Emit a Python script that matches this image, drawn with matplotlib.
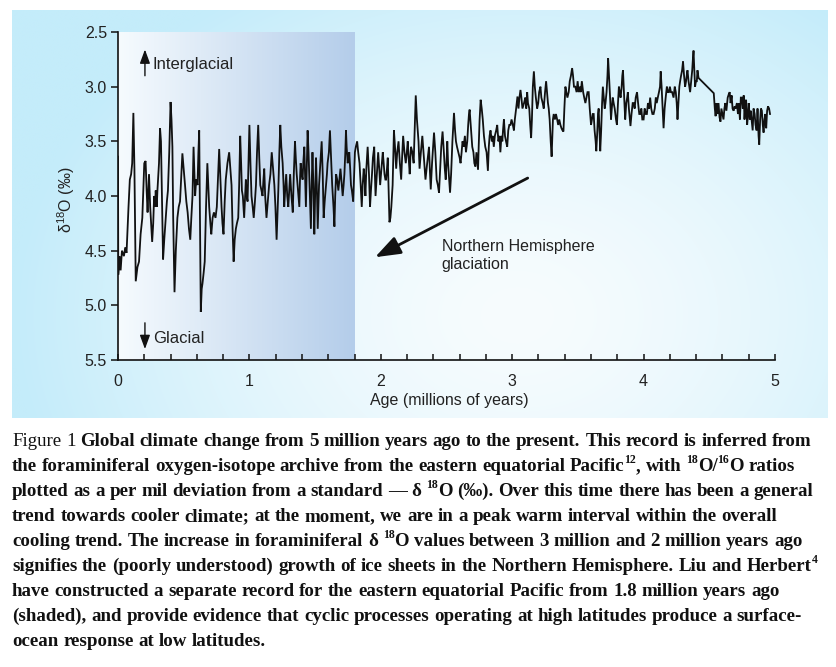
import re
import numpy as np
import matplotlib
matplotlib.use("Agg")
import matplotlib.pyplot as plt

# ---------------- data ----------------
age = [0.000, 0.002, 0.012, 0.02, 0.03, 0.045, 0.055, 0.065, 0.08, 0.09, 0.1, 0.108, 0.117, 0.125, 0.135,
       0.148, 0.16, 0.172, 0.185, 0.195, 0.2, 0.21, 0.218, 0.225, 0.236, 0.245, 0.26, 0.268, 0.275, 0.282,
       0.287, 0.295, 0.3, 0.312, 0.32, 0.327, 0.333, 0.343, 0.352, 0.363, 0.372, 0.38, 0.39, 0.4, 0.407,
       0.414, 0.42, 0.43, 0.44, 0.452, 0.462, 0.472, 0.48, 0.49, 0.5, 0.51, 0.52, 0.53, 0.54, 0.55,
       0.558, 0.567, 0.575, 0.58, 0.587, 0.595, 0.605, 0.612, 0.618, 0.624, 0.63, 0.637, 0.643, 0.652, 0.66,
       0.67, 0.68, 0.687, 0.694, 0.703, 0.71, 0.72, 0.73, 0.742, 0.752, 0.762, 0.77, 0.778, 0.788, 0.795,
       0.803, 0.812, 0.82, 0.833, 0.846, 0.855, 0.864, 0.872, 0.88, 0.888, 0.897, 0.905, 0.915, 0.922, 0.93,
       0.937, 0.943, 0.95, 0.96, 0.967, 0.973, 0.98, 0.986, 0.993, 1.0, 1.008, 1.016, 1.025, 1.033, 1.042,
       1.05, 1.058, 1.067, 1.075, 1.083, 1.092, 1.1, 1.107, 1.113, 1.12, 1.13, 1.14, 1.15, 1.16, 1.17,
       1.18, 1.19, 1.198, 1.207, 1.213, 1.22, 1.228, 1.235, 1.243, 1.253, 1.26, 1.265, 1.272, 1.28, 1.288,
       1.296, 1.303, 1.31, 1.32, 1.33, 1.338, 1.347, 1.353, 1.36, 1.37, 1.38, 1.385, 1.39, 1.398, 1.405,
       1.41, 1.418, 1.425, 1.43, 1.437, 1.443, 1.45, 1.455, 1.462, 1.468, 1.474, 1.48, 1.487, 1.494, 1.5,
       1.507, 1.513, 1.52, 1.525, 1.53, 1.54, 1.55, 1.558, 1.565, 1.573, 1.583, 1.59, 1.595, 1.605, 1.613,
       1.62, 1.63, 1.64, 1.647, 1.653, 1.66, 1.668, 1.677, 1.685, 1.693, 1.7, 1.71, 1.717, 1.723, 1.73,
       1.735, 1.74, 1.748, 1.755, 1.76, 1.767, 1.773, 1.78, 1.79, 1.797, 1.803, 1.81, 1.82, 1.828, 1.838,
       1.847, 1.855, 1.862, 1.87, 1.877, 1.883, 1.89, 1.9, 1.91, 1.918, 1.925, 1.933, 1.94, 1.95, 1.955,
       1.96, 1.97, 1.98, 1.988, 1.995, 2.005, 2.015, 2.022, 2.028, 2.035, 2.04, 2.047, 2.053, 2.06, 2.066,
       2.073, 2.08, 2.085, 2.09, 2.095, 2.1, 2.108, 2.117, 2.125, 2.135, 2.145, 2.155, 2.162, 2.17, 2.18,
       2.19, 2.198, 2.205, 2.212, 2.22, 2.225, 2.23, 2.24, 2.25, 2.258, 2.266, 2.275, 2.287, 2.295, 2.305,
       2.316, 2.328, 2.34, 2.353, 2.367, 2.373, 2.38, 2.39, 2.398, 2.405, 2.415, 2.425, 2.434, 2.443, 2.452,
       2.46, 2.47, 2.48, 2.487, 2.494, 2.5, 2.506, 2.512, 2.52, 2.527, 2.535, 2.545, 2.552, 2.557, 2.565,
       2.572, 2.58, 2.59, 2.6, 2.607, 2.615, 2.622, 2.63, 2.64, 2.648, 2.658, 2.665, 2.671, 2.676, 2.684,
       2.69, 2.696, 2.705, 2.712, 2.72, 2.728, 2.735, 2.74, 2.745, 2.752, 2.76, 2.768, 2.776, 2.785, 2.795,
       2.805, 2.815, 2.822, 2.828, 2.835, 2.845, 2.852, 2.86, 2.868, 2.878, 2.886, 2.895, 2.903, 2.91, 2.918,
       2.925, 2.93, 2.937, 2.945, 2.953, 2.962, 2.97, 2.978, 2.987, 2.995, 3.005, 3.013, 3.02, 3.03, 3.04,
       3.048, 3.055, 3.063, 3.07, 3.078, 3.09, 3.1, 3.107, 3.114, 3.12, 3.13, 3.137, 3.144, 3.15, 3.157,
       3.165, 3.172, 3.18, 3.19, 3.198, 3.205, 3.215, 3.222, 3.232, 3.24, 3.25, 3.258, 3.265, 3.272, 3.278,
       3.285, 3.293, 3.3, 3.306, 3.31, 3.316, 3.325, 3.333, 3.342, 3.35, 3.358, 3.367, 3.375, 3.383, 3.39,
       3.397, 3.405, 3.412, 3.42, 3.43, 3.438, 3.447, 3.456, 3.463, 3.47, 3.48, 3.49, 3.498, 3.506, 3.515,
       3.522, 3.53, 3.54, 3.548, 3.557, 3.565, 3.573, 3.582, 3.59, 3.6, 3.607, 3.613, 3.62, 3.627, 3.635,
       3.64, 3.648, 3.653, 3.658, 3.664, 3.67, 3.677, 3.684, 3.69, 3.697, 3.704, 3.71, 3.718, 3.725, 3.73,
       3.737, 3.745, 3.752, 3.758, 3.765, 3.772, 3.78, 3.79, 3.797, 3.805, 3.812, 3.818, 3.825, 3.833, 3.838,
       3.843, 3.85, 3.856, 3.86, 3.868, 3.875, 3.88, 3.888, 3.895, 3.9, 3.908, 3.917, 3.924, 3.932, 3.94,
       3.95, 3.958, 3.967, 3.975, 3.983, 3.99, 4.0, 4.008, 4.017, 4.025, 4.033, 4.042, 4.05, 4.058, 4.067,
       4.076, 4.085, 4.093, 4.1, 4.108, 4.117, 4.125, 4.13, 4.137, 4.145, 4.152, 4.16, 4.168, 4.177, 4.185,
       4.193, 4.2, 4.208, 4.217, 4.228, 4.237, 4.245, 4.252, 4.258, 4.265, 4.272, 4.278, 4.285, 4.293, 4.3,
       4.308, 4.316, 4.323, 4.33, 4.334, 4.342, 4.348, 4.354, 4.362, 4.37, 4.375, 4.38, 4.386, 4.392, 4.398,
       4.405, 4.41, 4.418, 4.534, 4.542, 4.548, 4.555, 4.562, 4.57, 4.578, 4.585, 4.592, 4.6, 4.608, 4.615,
       4.622, 4.63, 4.64, 4.648, 4.655, 4.662, 4.67, 4.677, 4.685, 4.693, 4.7, 4.71, 4.718, 4.725, 4.733,
       4.74, 4.748, 4.755, 4.762, 4.768, 4.775, 4.78, 4.788, 4.795, 4.8, 4.808, 4.815, 4.822, 4.83, 4.837,
       4.845, 4.852, 4.86, 4.867, 4.875, 4.88, 4.887, 4.893, 4.9, 4.907, 4.913, 4.92, 4.927, 4.933, 4.94,
       4.947, 4.955, 4.962]

d18o = [3.64, 4.72, 4.55, 4.68, 4.5, 4.55, 4.47, 4.52, 4.1, 3.85, 3.8, 3.7, 3.24, 3.75, 4.78,
        4.65, 4.6, 4.35, 4.2, 3.85, 3.7, 3.68, 3.95, 4.15, 3.8, 4.1, 4.42, 4.25, 4.0, 4.1,
        3.95, 4.1, 3.95, 3.7, 3.38, 3.5, 3.9, 4.58, 4.4, 4.2, 4.05, 3.95, 3.6, 3.14, 3.3,
        3.55, 4.2, 4.88, 4.5, 4.2, 4.1, 4.05, 3.85, 3.61, 3.75, 3.9, 4.05, 4.15, 4.3, 4.4,
        4.2, 4.0, 3.55, 3.75, 4.0, 3.85, 3.9, 3.6, 3.4, 4.2, 5.06, 4.85, 4.8, 4.7, 4.6,
        4.1, 3.7, 3.9, 4.1, 4.25, 4.35, 4.2, 4.15, 4.2, 4.1, 3.8, 3.57, 3.8, 4.1, 4.25,
        4.35, 4.05, 3.85, 3.7, 3.6, 3.75, 3.9, 4.3, 4.6, 4.4, 4.3, 4.25, 4.2, 3.9, 3.45,
        3.7, 3.95, 4.0, 4.2, 4.0, 3.85, 4.0, 4.05, 3.7, 3.35, 3.7, 4.0, 4.1, 4.2, 4.05,
        3.9, 3.6, 3.35, 3.65, 3.9, 3.95, 4.0, 3.85, 3.75, 4.0, 4.2, 4.05, 3.9, 3.8, 3.6,
        3.75, 3.9, 4.1, 4.4, 4.2, 3.95, 3.6, 3.35, 3.55, 3.7, 3.9, 4.1, 3.95, 3.8, 4.0,
        4.1, 3.95, 3.8, 4.0, 4.15, 3.8, 3.5, 3.65, 3.8, 3.95, 4.1, 3.85, 3.7, 3.8, 3.85,
        3.7, 3.55, 3.85, 4.1, 3.7, 3.4, 3.6, 3.8, 4.05, 4.3, 3.9, 3.6, 3.9, 4.35, 4.0,
        3.65, 3.9, 4.3, 4.1, 3.9, 3.7, 3.5, 3.8, 4.2, 4.05, 3.9, 3.8, 3.7, 3.6, 3.4,
        3.6, 3.9, 4.1, 4.28, 4.0, 3.8, 3.85, 3.95, 3.85, 3.75, 3.85, 4.0, 3.9, 3.8, 3.6,
        3.4, 3.55, 3.7, 3.65, 3.6, 3.75, 3.9, 3.95, 4.05, 3.8, 3.6, 3.55, 3.5, 3.6, 3.7,
        3.9, 4.1, 3.9, 3.75, 3.85, 4.0, 3.75, 3.55, 3.8, 4.1, 3.95, 3.8, 3.65, 3.55, 3.8,
        4.0, 3.8, 3.6, 3.75, 3.9, 3.75, 3.6, 3.7, 3.8, 3.85, 3.85, 3.75, 3.65, 3.95, 4.24,
        4.2, 4.1, 4.0, 3.9, 3.65, 3.4, 3.55, 3.75, 3.6, 3.5, 3.7, 3.85, 3.65, 3.45, 3.6,
        3.7, 3.6, 3.5, 3.65, 3.8, 3.65, 3.55, 3.6, 3.7, 3.4, 3.08, 3.3, 3.5, 3.75, 3.6,
        3.45, 3.65, 3.85, 3.7, 3.55, 3.75, 3.94, 3.7, 3.55, 3.42, 3.6, 3.85, 3.9, 3.97, 3.75,
        3.55, 3.41, 3.6, 3.75, 3.85, 3.7, 3.5, 3.7, 3.85, 3.97, 3.8, 3.5, 3.35, 3.24, 3.4,
        3.5, 3.55, 3.6, 3.65, 3.7, 3.6, 3.5, 3.55, 3.45, 3.6, 3.5, 3.35, 3.25, 3.21, 3.35,
        3.45, 3.55, 3.6, 3.7, 3.73, 3.6, 3.7, 3.76, 3.55, 3.3, 3.12, 3.2, 3.3, 3.45, 3.55,
        3.6, 3.77, 3.55, 3.45, 3.4, 3.5, 3.45, 3.55, 3.45, 3.4, 3.35, 3.5, 3.45, 3.6, 3.45,
        3.5, 3.4, 3.3, 3.45, 3.5, 3.55, 3.4, 3.35, 3.35, 3.3, 3.35, 3.4, 3.3, 3.2, 3.09,
        3.2, 3.1, 3.03, 3.1, 3.2, 3.15, 3.1, 3.2, 3.05, 3.15, 3.2, 3.35, 3.47, 3.3, 3.0,
        2.86, 3.0, 3.1, 3.2, 3.15, 3.05, 3.0, 3.1, 3.15, 3.2, 3.05, 2.95, 3.05, 3.15, 3.2,
        3.3, 3.5, 3.64, 3.45, 3.3, 3.25, 3.3, 3.25, 3.3, 3.35, 3.3, 3.35, 3.38, 3.4, 3.41,
        3.2, 3.0, 3.05, 3.1, 3.05, 2.95, 2.9, 2.83, 2.9, 3.0, 3.0, 3.05, 2.95, 3.05, 3.0,
        3.05, 2.95, 3.05, 3.1, 3.15, 3.1, 3.05, 3.05, 3.2, 3.35, 3.3, 3.25, 3.25, 3.4, 3.5,
        3.59, 3.4, 3.25, 3.2, 3.4, 3.59, 3.4, 3.15, 3.0, 3.1, 3.2, 3.15, 3.05, 2.9, 2.74,
        2.9, 3.1, 3.3, 3.2, 3.1, 3.15, 3.2, 3.3, 3.35, 3.15, 3.0, 3.05, 3.1, 3.0, 2.9,
        2.85, 3.05, 3.2, 3.3, 3.15, 3.1, 3.05, 3.2, 3.3, 3.36, 3.25, 3.15, 3.15, 3.2, 3.1,
        3.05, 3.15, 3.25, 3.25, 3.2, 3.3, 3.3, 3.2, 3.25, 3.25, 3.15, 3.2, 3.1, 3.2, 3.25,
        3.25, 3.2, 3.1, 3.15, 3.1, 3.05, 3.0, 2.86, 3.0, 3.2, 3.38, 3.2, 3.1, 3.0, 3.05,
        3.05, 3.0, 3.05, 3.05, 3.1, 3.0, 3.05, 3.15, 3.3, 3.15, 3.0, 2.95, 2.9, 2.85, 2.77,
        2.9, 3.0, 2.95, 2.88, 2.85, 2.95, 3.0, 3.05, 2.95, 2.85, 2.75, 2.67, 2.85, 3.0, 2.95,
        2.95, 2.85, 2.92, 3.06, 3.2, 3.27, 3.15, 3.25, 3.15, 3.28, 3.32, 3.2, 3.25, 3.3, 3.2,
        3.15, 3.22, 3.1, 3.07, 3.05, 3.15, 3.08, 3.2, 3.22, 3.18, 3.2, 3.15, 3.25, 3.15, 3.3,
        3.1, 3.1, 3.2, 3.08, 3.3, 3.15, 3.12, 3.35, 3.25, 3.15, 3.3, 3.22, 3.3, 3.4, 3.2,
        3.25, 3.35, 3.4, 3.2, 3.45, 3.53, 3.3, 3.2, 3.22, 3.35, 3.42, 3.3, 3.25, 3.38, 3.22,
        3.18, 3.2, 3.25]

x_ticks = [0, 1, 2, 3, 4, 5]
y_ticks = [2.5, 3.0, 3.5, 4.0, 4.5, 5.0, 5.5]
shade_end = 1.8
x_label = "Age (millions of years)"
y_label = "δ$^{18}$O (‰)"
caption_lines = [
    "Figure 1 Global climate change from 5 million years ago to the present. This record is inferred from",
    "the foraminiferal oxygen-isotope archive from the eastern equatorial Pacific^12, with ^18O/^16O ratios",
    "plotted as a per mil deviation from a standard — δ ^18O (‰). Over this time there has been a general",
    "trend towards cooler climate; at the moment, we are in a peak warm interval within the overall",
    "cooling trend. The increase in foraminiferal δ ^18O values between 3 million and 2 million years ago",
    "signifies the (poorly understood) growth of ice sheets in the Northern Hemisphere. Liu and Herbert^4",
    "have constructed a separate record for the eastern equatorial Pacific from 1.8 million years ago",
    "(shaded), and provide evidence that cyclic processes operating at high latitudes produce a surface-",
    "ocean response at low latitudes.",
]
caption_regular_words = 2  # "Figure 1" is set in regular weight

# ---------------- style ----------------
plt.rcParams["font.family"] = ["Liberation Sans", "DejaVu Sans"]
plt.rcParams["mathtext.fontset"] = "custom"
plt.rcParams["mathtext.rm"] = "Liberation Sans"
plt.rcParams["mathtext.it"] = "Liberation Sans:italic"
plt.rcParams["mathtext.bf"] = "Liberation Sans:bold"

W, H = 836, 667
fig = plt.figure(figsize=(W / 100, H / 100), dpi=100)
fig.patch.set_facecolor("white")


def px_rect(l, t, r, b):
    return [l / W, 1 - b / H, (r - l) / W, (b - t) / H]


# light-blue background panel (radial gradient)
bg = fig.add_axes(px_rect(12, 10, 828, 418), zorder=0)
ny, nx = 200, 400
yy, xx = np.mgrid[0:1:ny * 1j, 0:1:nx * 1j]
r = np.clip(np.sqrt(((xx - 0.62) / 0.62) ** 2 + ((yy - 0.75) / 0.95) ** 2), 0, 1)
c_center = np.array([247, 252, 254]) / 255
c_edge = np.array([196, 236, 250]) / 255
img = c_center + (c_edge - c_center) * (r[..., None] ** 1.5)
bg.imshow(img, aspect="auto", extent=[0, 1, 0, 1], interpolation="bilinear")
bg.set_axis_off()

# main axes
ax = fig.add_axes(px_rect(118, 32, 775, 360), zorder=1)
ax.set_facecolor("none")

g = np.linspace(0, 1, 256)
c0 = np.array([246, 251, 254]) / 255
c1 = np.array([180, 205, 234]) / 255
grad = (c0 + (c1 - c0) * g[:, None])[None, :, :]
ax.imshow(grad, extent=[0, shade_end, 5.5, 2.5], aspect="auto", zorder=0,
          interpolation="bilinear")

ax.plot(age, d18o, color="#111111", lw=1.3, zorder=2, solid_joinstyle="miter")

ax.set_xlim(0, 5)
ax.set_ylim(5.5, 2.5)
for s in ["top", "right"]:
    ax.spines[s].set_visible(False)
for s in ["left", "bottom"]:
    ax.spines[s].set_linewidth(1.2)
    ax.spines[s].set_color("#111111")

ax.set_xticks(x_ticks)
ax.set_xticklabels([str(v) for v in x_ticks])
ax.set_xticks(np.arange(0, 5.001, 0.2), minor=True)
ax.set_yticks(y_ticks)
ax.set_yticklabels([f"{v:.1f}" for v in y_ticks])
ax.tick_params(axis="x", which="both", direction="in", length=4, width=1.1,
               pad=10, labelsize=11.5, colors="#111111", labelcolor="#222222")
ax.tick_params(axis="y", which="both", direction="out", length=5, width=1.1,
               pad=3, labelsize=11.5, colors="#111111", labelcolor="#222222")

ax.set_xlabel(x_label, fontsize=11.5, color="#222222")
ax.xaxis.set_label_coords(0.505, -0.10)
ax.set_ylabel(y_label, fontsize=11.5, color="#222222")
ax.yaxis.set_label_coords(-0.062, 0.49)

# interglacial / glacial arrows
ax.annotate("", xy=(0.205, 2.66), xytext=(0.205, 2.90),
            arrowprops=dict(arrowstyle="-|>,head_length=0.6,head_width=0.22",
                            mutation_scale=14, lw=1.0, color="#111111",
                            shrinkA=0, shrinkB=0))
ax.text(0.265, 2.80, "Interglacial", fontsize=12, color="#222222",
        ha="left", va="center")
ax.annotate("", xy=(0.205, 5.40), xytext=(0.205, 5.16),
            arrowprops=dict(arrowstyle="-|>,head_length=0.6,head_width=0.22",
                            mutation_scale=14, lw=1.0, color="#111111",
                            shrinkA=0, shrinkB=0))
ax.text(0.265, 5.30, "Glacial", fontsize=12, color="#222222",
        ha="left", va="center")

# Northern Hemisphere glaciation arrow
ax.annotate("", xy=(1.956, 4.56), xytext=(3.118, 3.836),
            arrowprops=dict(arrowstyle="-|>,head_length=1.1,head_width=0.4",
                            mutation_scale=14, lw=2.0, color="#111111",
                            shrinkA=0, shrinkB=0))
ax.text(2.463, 4.54, "Northern Hemisphere\nglaciation", fontsize=11.5,
        color="#222222", ha="left", va="center", linespacing=1.25)

# ---------------- caption ----------------
renderer = fig.canvas.get_renderer()
SERIF = ["Liberation Serif", "DejaVu Serif"]


def seg_width(s, size, weight):
    t = fig.text(0, 0, s, fontsize=size, fontweight=weight, family=SERIF)
    w = t.get_window_extent(renderer).width
    t.remove()
    return w


def parse_words(line, regular_words):
    words = []
    for k, w in enumerate(line.split(" ")):
        parts = re.split(r"\^(\d+)", w)
        segs = []
        for j, p in enumerate(parts):
            if p == "":
                continue
            segs.append((p, j % 2 == 1))
        weight = "normal" if k < regular_words else "bold"
        words.append((segs, weight))
    return words


def layout(line, regular_words, size, draw=False, x0=12, ybase=0):
    words = parse_words(line, regular_words)
    sp = seg_width("x x", size, "bold") - seg_width("xx", size, "bold")
    x = x0
    for i, (segs, weight) in enumerate(words):
        for s, sup in segs:
            fs = size * 0.62 if sup else size
            w = seg_width(s, fs, weight)
            if draw:
                dy = size * 1.389 * 0.40 if sup else 0
                fig.text(x / W, 1 - (ybase - dy) / H, s, fontsize=fs,
                         fontweight=weight, family=SERIF, color="#111111",
                         ha="left", va="baseline")
            x += w
        if i < len(words) - 1:
            x += sp
    return x - x0


base_size = 12.0
w0 = layout(caption_lines[0], caption_regular_words, base_size)
cap_size = base_size * 794.0 / w0

for i, line in enumerate(caption_lines):
    layout(line, caption_regular_words if i == 0 else 0, cap_size, draw=True,
           x0=12, ybase=446 + 25 * i)

fig.savefig("out.png", dpi=100, facecolor="white")
